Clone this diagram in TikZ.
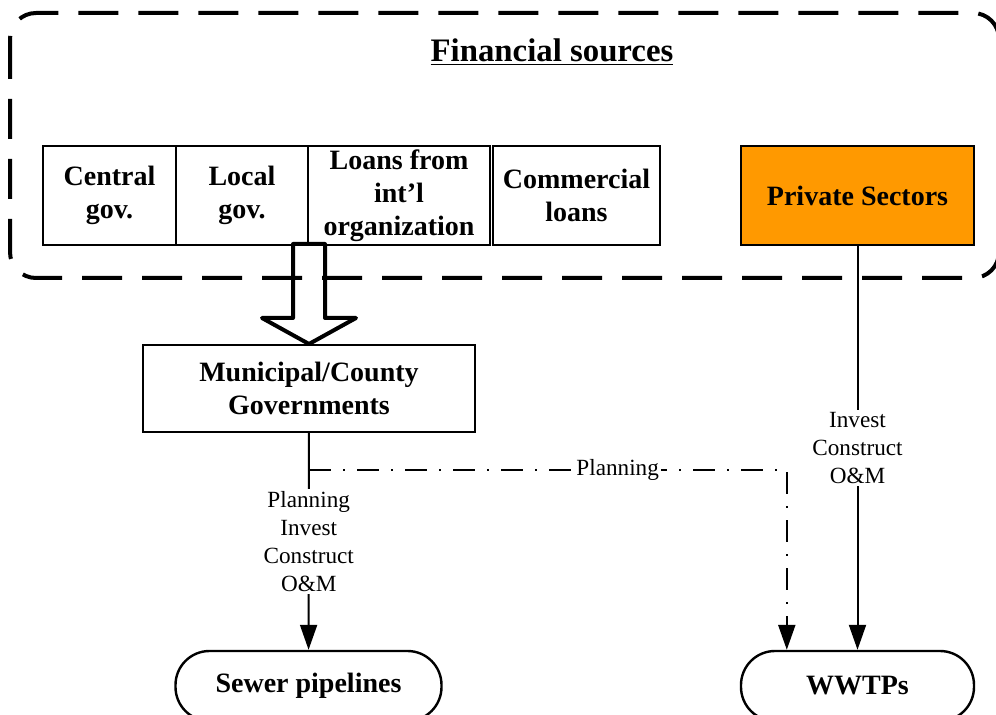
\documentclass[tikz,border=0pt]{standalone}
\usepackage{fontspec}
\setmainfont{Liberation Serif}
\usetikzlibrary{arrows.meta,calc}
\definecolor{privorange}{RGB}{255,153,0}

\begin{document}
\begin{tikzpicture}[x=0.5pt, y=-0.5pt,
  srcbox/.style={draw, line width=1pt, minimum height=49.5pt, inner sep=1pt, align=center,
    font=\fontsize{14}{16.5}\selectfont\bfseries},
  govbox/.style={srcbox, minimum height=43.5pt, minimum width=166pt},
  endbox/.style={draw, line width=1.2pt, rounded corners=17pt, minimum width=116.5pt,
    minimum height=35pt, font=\fontsize{14}{16.5}\selectfont\bfseries},
  lbl/.style={fill=white, inner sep=1pt, align=center, font=\fontsize{11.6}{14}\selectfont},
  arr/.style={line width=1pt, -{Triangle[length=12.5pt, width=8.5pt]}},
  dashdot/.style={arr, line width=1.1pt, dash pattern=on 11pt off 6pt on 1pt off 6pt},
  frame/.style={line width=2pt, dash pattern=on 20pt off 10pt, rounded corners=13pt},
  hollow/.style={line width=2pt, line join=round}]
\useasboundingbox (0,0) rectangle (996,715);
\draw[frame] (10,13) rectangle (999,278);
\node[font=\fontsize{16.4}{19}\selectfont\bfseries] (title) at (552,52) {\underline{Financial sources}};
\node[srcbox, minimum width=66.5pt] (central) at (109.5,195.5) {Central\\gov.};
\node[srcbox, minimum width=66pt] (local) at (242,195.5) {Local\\gov.};
\node[srcbox, minimum width=91pt] (loans) at (399,195.5) {Loans from\\int’l\\organization};
\node[srcbox, minimum width=83.5pt, line width=1.3pt] (comm) at (576.5,195.5) {Commercial\\loans};
\node[srcbox, minimum width=116.5pt, line width=1.3pt, fill=privorange] (private) at (857.5,195.5) {Private Sectors};
\node[govbox] (muni) at (309,388.5) {Municipal/County\\Governments};
\node[endbox, minimum width=133pt] (sewer) at (308.5,686) {Sewer pipelines};
\node[endbox] (wwtp) at (857.5,686) {WWTPs};
\draw[hollow] (muni.north) -- ++(47,-26) -- ++(-31,0) -- ++(0,-74) -- ++(-32,0) -- ++(0,74) -- ++(-31,0) -- cycle;
\draw[arr] (muni) -- node[lbl] {Planning\\Invest\\Construct\\O\&M} (sewer);
\draw[arr] (private) -- node[lbl] {Invest\\Construct\\O\&M} (wwtp);
\coordinate (plan) at (309,470);
\coordinate (wwtpin) at ($(wwtp.north west)+(47,0)$);
\draw[dashdot] (plan) -| node[lbl, pos=0.323] {Planning} (wwtpin);
\end{tikzpicture}
\end{document}
